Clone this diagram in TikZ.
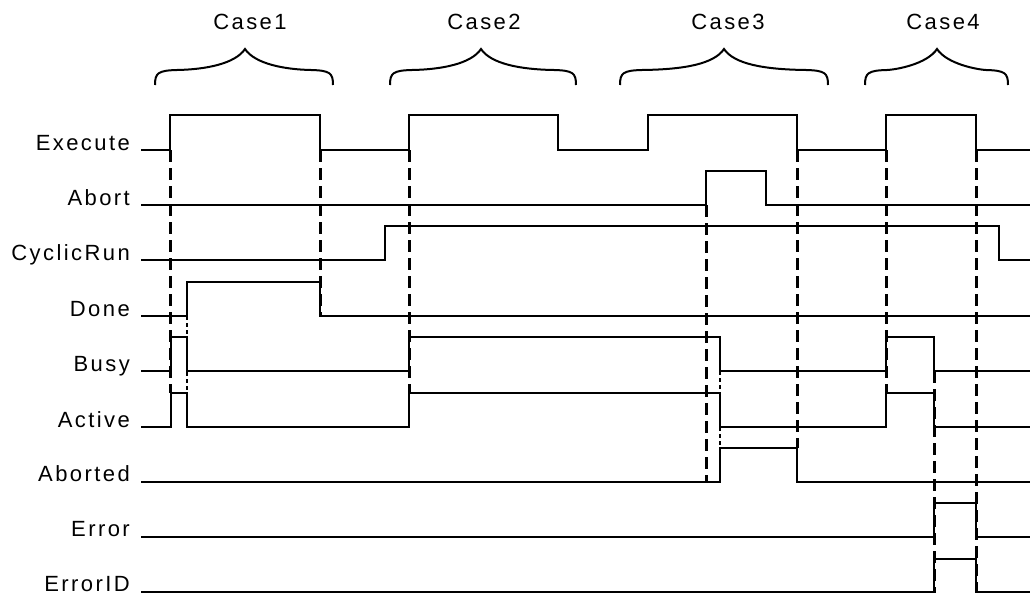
\documentclass[tikz,border=0pt]{standalone}
\usepackage{fontspec}
\newfontfamily\policeEtiq[LetterSpace=11]{Liberation Sans}

\begin{document}
\begin{tikzpicture}[x=1pt,y=-1pt]
	% Styles
	\tikzstyle{signal}=[line width=2pt]
	\tikzstyle{repere}=[line width=3pt, dash pattern=on 12pt off 6pt]
	\tikzstyle{pointille}=[line width=2.2pt, dash pattern=on 4pt off 3pt]
	\tikzstyle{accolade}=[line width=2pt]
	\tikzstyle{etiquette}=[inner sep=0pt, font=\policeEtiq\fontsize{22}{24}\selectfont]
	% Dimensions
	\def\Debut{141}
	\def\Fin{1030}
	\def\Bord{130}
	% Accolade : gauche, pointe, droite
	\def\accolade#1#2#3{\draw[accolade] (#1,85) .. controls (#1,73) and ({#1+3},70.5) .. ({#1+22},70) .. controls ({#2-40},69.5) and ({#2-10},64) .. (#2,49) .. controls ({#2+10},64) and ({#2+40},69.5) .. ({#3-22},70) .. controls ({#3-3},70.5) and (#3,73) .. (#3,85);}
	\useasboundingbox (0,0) rectangle (1030,594);
	%
	% Cas
	\node[etiquette, anchor=base] (cas1) at (250,30) {Case1};
	\node[etiquette, anchor=base] (cas2) at (484,30) {Case2};
	\node[etiquette, anchor=base] (cas3) at (728,30) {Case3};
	\node[etiquette, anchor=base] (cas4) at (943,30) {Case4};
	\accolade{155}{245}{333}
	\accolade{390}{481}{576}
	\accolade{620}{724}{828}
	\accolade{865}{937}{1008}
	%
	% Noms des signaux
	\node[etiquette, anchor=base east] (execute) at (\Bord,150) {Execute};
	\node[etiquette, anchor=base east] (abort) at (\Bord,205) {Abort};
	\node[etiquette, anchor=base east] (cyclicrun) at (\Bord,260) {CyclicRun};
	\node[etiquette, anchor=base east] (done) at (\Bord,316) {Done};
	\node[etiquette, anchor=base east] (busy) at (\Bord,371) {Busy};
	\node[etiquette, anchor=base east] (active) at (\Bord,427) {Active};
	\node[etiquette, anchor=base east] (aborted) at (\Bord,481) {Aborted};
	\node[etiquette, anchor=base east] (error) at (\Bord,536) {Error};
	\node[etiquette, anchor=base east] (errorid) at (\Bord,591) {ErrorID};
	%
	% Signaux
	\draw[signal] (\Debut,150) -| (170,115) -| (320,150) -| (409,115) -| (558,150) -| (648,115) -| (797,150) -| (886,115) -| (976,150) -- (\Fin,150);
	\draw[signal] (\Debut,205) -| (706,171) -| (766,205) -- (\Fin,205);
	\draw[signal] (\Debut,260) -| (385,226) -| (999,260) -- (\Fin,260);
	\draw[signal] (\Debut,316) -| (187,282) -| (320,316) -- (\Fin,316);
	\draw[signal] (\Debut,371) -| (171,337) -| (187,371) -| (409,337) -| (720,371) -| (886,337) -| (934,371) -- (\Fin,371);
	\draw[signal] (\Debut,427) -| (171,393) -| (187,427) -| (409,393) -| (720,427) -| (886,393) -| (934,427) -- (\Fin,427);
	\draw[signal] (\Debut,482) -| (720,448) -| (797,482) -- (\Fin,482);
	\draw[signal] (\Debut,537) -| (934,503) -| (976,537) -- (\Fin,537);
	\draw[signal] (\Debut,592) -| (934,559) -| (976,592) -- (\Fin,592);
	%
	% Reperes
	\draw[repere] (170,150) -- (170,393);
	\draw[repere] (320,150) -- (320,316);
	\draw[repere] (409,150) -- (409,393);
	\draw[repere] (706,205) -- (706,482);
	\draw[repere] (797,150) -- (797,448);
	\draw[repere] (886,150) -- (886,393);
	\draw[repere] (934,371) -- (934,593);
	\draw[repere] (976,150) -- (976,593);
	\draw[pointille] (187,316) -- (187,427);
	\draw[pointille] (720,371) -- (720,448);
\end{tikzpicture}
\end{document}
